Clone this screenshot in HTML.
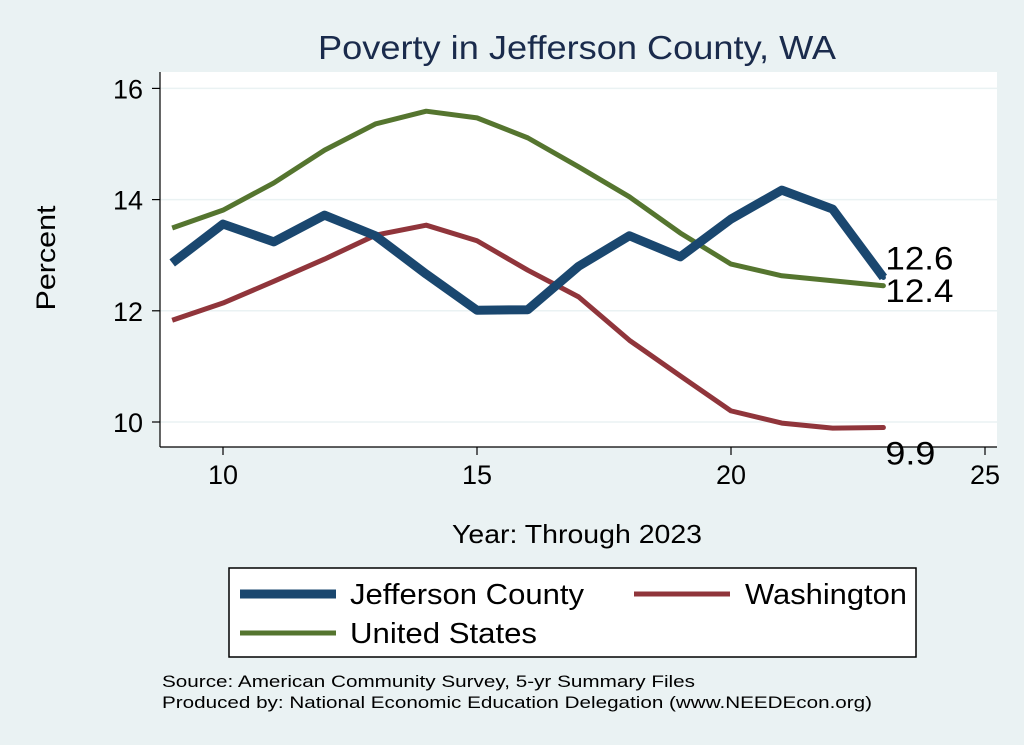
<!DOCTYPE html>
<html><head><meta charset="utf-8"><style>
body{margin:0;background:#eaf2f3;}
svg{display:block;font-family:"Liberation Sans",Arial,sans-serif;}
</style></head><body>
<svg width="1024" height="745" viewBox="0 0 1024 745">
<rect x="0" y="0" width="1024" height="745" fill="#eaf2f3"/>
<rect x="160" y="72" width="837" height="375" fill="#ffffff"/>
<text x="318" y="59" font-size="33" textLength="518" lengthAdjust="spacingAndGlyphs" fill="#1a2b4c">Poverty in Jefferson County, WA</text>
<g id="grid"></g>
<g id="axes"></g>
<g id="series"></g>
<text transform="translate(55,258) rotate(-90)" text-anchor="middle" font-size="27" textLength="105" lengthAdjust="spacingAndGlyphs" fill="#000">Percent</text>
<text x="452" y="543" font-size="26" textLength="250" lengthAdjust="spacingAndGlyphs" fill="#000">Year: Through 2023</text>
<g>
<rect x="229" y="568" width="687" height="89" fill="#fff" stroke="#000" stroke-width="1.5"/>
<line x1="240" y1="594" x2="336" y2="594" stroke="#1a476f" stroke-width="9"/>
<text x="350" y="604" font-size="29" textLength="234" lengthAdjust="spacingAndGlyphs">Jefferson County</text>
<line x1="634" y1="594" x2="730" y2="594" stroke="#90353b" stroke-width="5"/>
<text x="745" y="604" font-size="29" textLength="162" lengthAdjust="spacingAndGlyphs">Washington</text>
<line x1="240" y1="633" x2="336" y2="633" stroke="#55752f" stroke-width="5"/>
<text x="350" y="643" font-size="29" textLength="187" lengthAdjust="spacingAndGlyphs">United States</text>
</g>
<text x="162" y="687" font-size="17" textLength="533" lengthAdjust="spacingAndGlyphs">Source: American Community Survey, 5-yr Summary Files</text>
<text x="162" y="708" font-size="17" textLength="710" lengthAdjust="spacingAndGlyphs">Produced by: National Economic Education Delegation (www.NEEDEcon.org)</text>
</svg>
<script>
const years=[9,10,11,12,13,14,15,16,17,18,19,20,21,22,23];
const jefferson=[12.86,13.56,13.24,13.72,13.35,12.66,12.01,12.02,12.8,13.35,12.97,13.65,14.17,13.83,12.6];
const washington=[11.83,12.14,12.53,12.93,13.36,13.54,13.26,12.73,12.25,11.47,10.83,10.2,9.98,9.89,9.9];
const unitedStates=[13.49,13.81,14.3,14.89,15.36,15.59,15.47,15.11,14.59,14.05,13.4,12.84,12.63,12.54,12.45];
const xTicks=[10,15,20,25];
const yTicks=[10,12,14,16];
const NS="http://www.w3.org/2000/svg";
const xs=v=>223+(v-10)*50.8;
const ys=v=>422-(v-10)*55.6;
function mk(tag,attrs,parent){const e=document.createElementNS(NS,tag);for(const k in attrs)e.setAttribute(k,attrs[k]);document.getElementById(parent).appendChild(e);return e;}
yTicks.forEach(t=>{
 const g=mk('line',{x1:160,x2:997,y1:ys(t),y2:ys(t),stroke:'#eaf2f3','stroke-width':1.5},'grid');
 
 
 const tk=mk('line',{x1:152,x2:160,y1:ys(t),y2:ys(t),stroke:'#000','stroke-width':1.2},'axes');
 
 
 const l=mk('text',{x:143,y:ys(t)+10,'text-anchor':'end','font-size':27},'axes');
 l.textContent=t;
 
 
});
xTicks.forEach(t=>{
 const tk=mk('line',{x1:xs(t),x2:xs(t),y1:447,y2:455,stroke:'#000','stroke-width':1.2},'axes');
 
 
 const l=mk('text',{x:xs(t),y:484,'text-anchor':'middle','font-size':27},'axes');
 l.textContent=t;
 
 
});
const ya=mk('line',{x1:160,x2:160,y1:72,y2:447,stroke:'#000','stroke-width':1.2},'axes');


const xa=mk('line',{x1:160,x2:997,y1:447,y2:447,stroke:'#000','stroke-width':1.2},'axes');


function line(vals,color,w,name,labelDy){
 const p=mk('polyline',{points:vals.map((v,i)=>xs(years[i])+','+ys(v)).join(' '),fill:'none',stroke:color,'stroke-width':w,'stroke-linejoin':'round'},'series');
 
 
 const last=vals[vals.length-1];
 const c=mk('circle',{cx:xs(years[years.length-1]),cy:ys(last),r:2.5,fill:color},'series');
 
 
 const t=mk('text',{x:xs(years[years.length-1])+2,y:ys(last)+labelDy,'font-size':32,textLength:68,lengthAdjust:'spacingAndGlyphs'},'series');
 if(last<10) t.setAttribute('textLength',50);
 t.textContent=last.toFixed(1);
 
 
}
line(washington,'#90353b',5,'washington',37);
line(unitedStates,'#55752f',5,'us',16);
line(jefferson,'#1a476f',9,'jefferson',-8);
</script>
</body></html>
